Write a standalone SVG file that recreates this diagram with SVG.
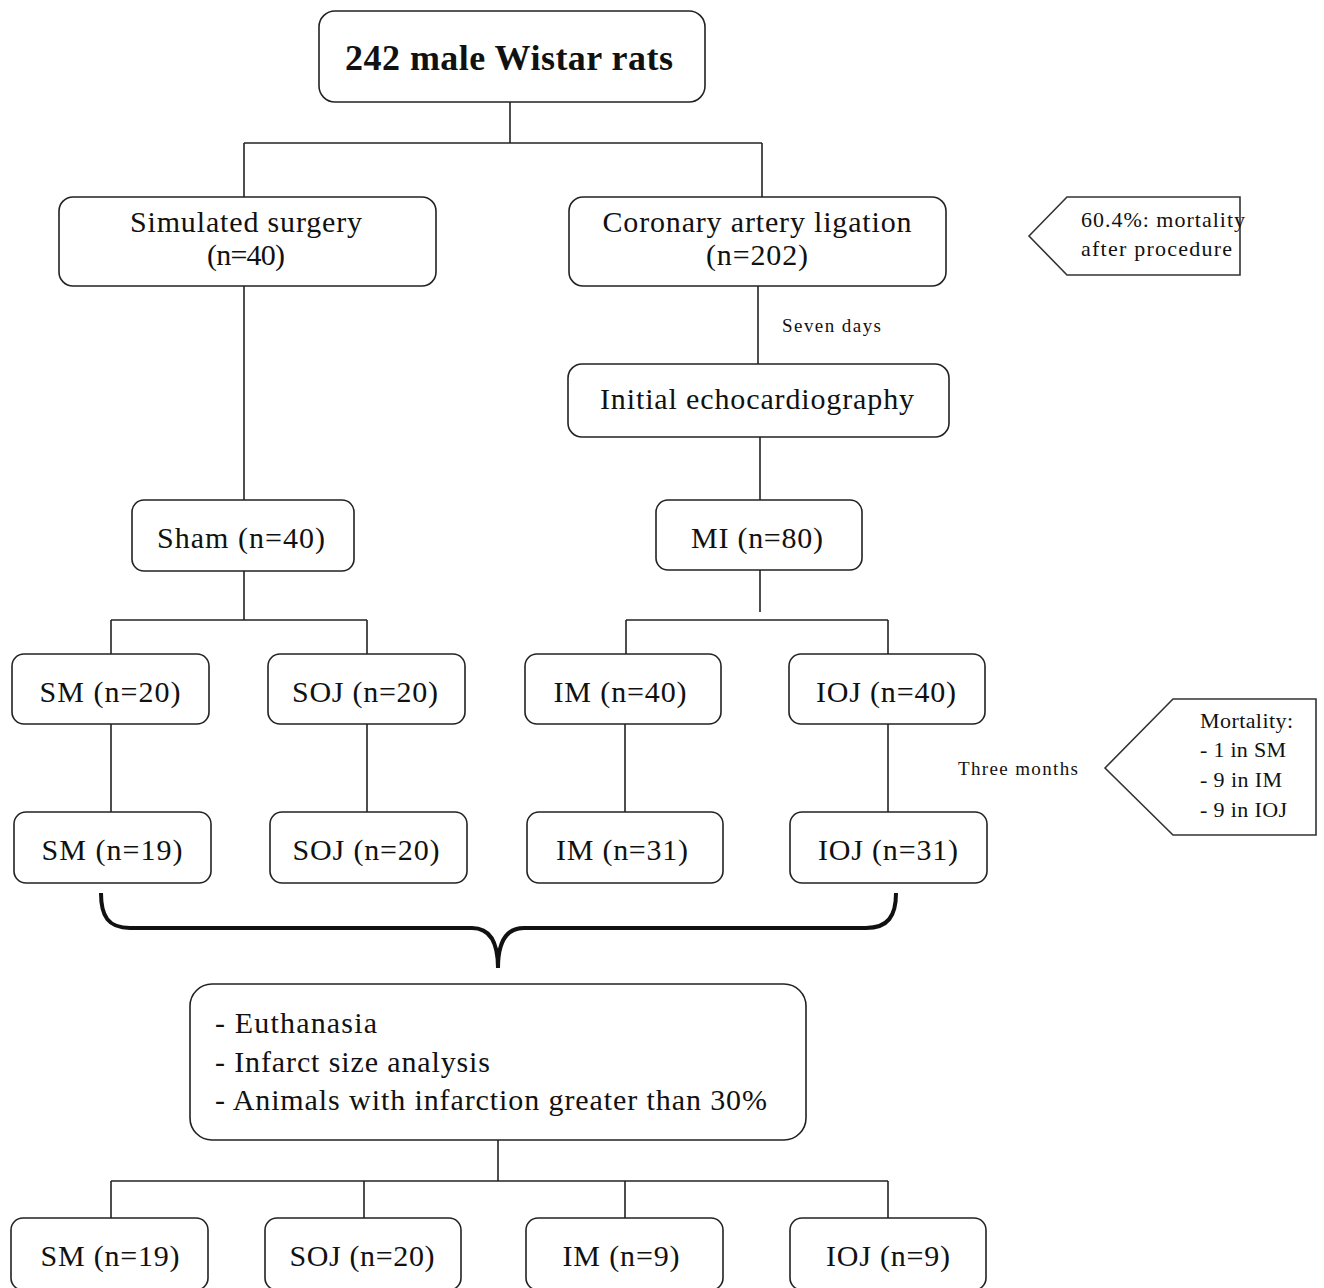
<svg xmlns="http://www.w3.org/2000/svg" width="1324" height="1288" viewBox="0 0 1324 1288">
<style>
.box{fill:#fff;stroke:#222;stroke-width:1.6}
.call{fill:#fff;stroke:#333;stroke-width:1.6}
.t{font-family:"Liberation Serif","Times New Roman",serif;font-size:30px;fill:#111}
.title{font-size:36px;font-weight:bold}
.tc{text-anchor:middle}
.s{font-family:"Liberation Serif","Times New Roman",serif;font-size:22px;fill:#111}
.xs{font-family:"Liberation Serif","Times New Roman",serif;font-size:19px;fill:#111}
.c line{stroke:#222;stroke-width:1.6}
</style>
<rect width="1324" height="1288" fill="#fff"/>
<g class="c" id="connectors">
<line x1="510" y1="102" x2="510" y2="143"/>
<line x1="244" y1="143" x2="762" y2="143"/>
<line x1="244" y1="143" x2="244" y2="197"/>
<line x1="762" y1="143" x2="762" y2="197"/>
<line x1="244" y1="286" x2="244" y2="500"/>
<line x1="758" y1="286" x2="758" y2="364"/>
<line x1="760" y1="437" x2="760" y2="500"/>
<line x1="244" y1="571" x2="244" y2="620"/>
<line x1="111" y1="620" x2="367" y2="620"/>
<line x1="111" y1="620" x2="111" y2="654"/>
<line x1="367" y1="620" x2="367" y2="654"/>
<line x1="760" y1="570" x2="760" y2="612"/>
<line x1="626" y1="620" x2="888" y2="620"/>
<line x1="626" y1="620" x2="626" y2="654"/>
<line x1="888" y1="620" x2="888" y2="654"/>
<line x1="111" y1="724" x2="111" y2="812"/>
<line x1="367" y1="724" x2="367" y2="812"/>
<line x1="625" y1="724" x2="625" y2="812"/>
<line x1="888" y1="724" x2="888" y2="812"/>
<line x1="498" y1="1140" x2="498" y2="1181"/>
<line x1="111" y1="1181" x2="888" y2="1181"/>
<line x1="111" y1="1181" x2="111" y2="1218"/>
<line x1="364" y1="1181" x2="364" y2="1218"/>
<line x1="625" y1="1181" x2="625" y2="1218"/>
<line x1="888" y1="1181" x2="888" y2="1218"/>
<path d="M101,893 C101,916 108,928 130,928 L472,928 C490,928 498,942 498,968 C498,942 506,928 524,928 L866,928 C888,928 896,916 896,893" fill="none" stroke="#111" stroke-width="4"/>
<text class="xs" x="782" y="332" textLength="99" lengthAdjust="spacing">Seven days</text>
<text class="xs" x="958" y="775" textLength="120" lengthAdjust="spacing">Three months</text>
</g>
<g id="n-root">
<rect class="box" x="319" y="11" width="386" height="91" rx="16"/>
<text class="t title tc" x="509" y="70" textLength="328" lengthAdjust="spacing">242 male Wistar rats</text>
</g>
<g id="n-sim">
<rect class="box" x="59" y="197" width="377" height="89" rx="14"/>
<text class="t tc" x="246" y="232" textLength="232" lengthAdjust="spacing">Simulated surgery</text>
<text class="t tc" x="246" y="265" textLength="78" lengthAdjust="spacing">(n=40)</text>
</g>
<g id="n-cal">
<rect class="box" x="569" y="197" width="377" height="89" rx="14"/>
<text class="t tc" x="757" y="232" textLength="309" lengthAdjust="spacing">Coronary artery ligation</text>
<text class="t tc" x="757" y="265" textLength="102" lengthAdjust="spacing">(n=202)</text>
</g>
<g id="n-mort1">
<polygon class="call" points="1029,236 1067,197 1240,197 1240,275 1067,275"/>
<text class="s" x="1081" y="227" textLength="164" lengthAdjust="spacing">60.4%: mortality</text>
<text class="s" x="1081" y="256" textLength="151" lengthAdjust="spacing">after procedure</text>
</g>
<g id="n-echo">
<rect class="box" x="568" y="364" width="381" height="73" rx="14"/>
<text class="t tc" x="757" y="409" textLength="314" lengthAdjust="spacing">Initial echocardiography</text>
</g>
<g id="n-sham">
<rect class="box" x="132" y="500" width="222" height="71" rx="12"/>
<text class="t tc" x="241" y="548" textLength="168" lengthAdjust="spacing">Sham (n=40)</text>
</g>
<g id="n-mi">
<rect class="box" x="656" y="500" width="206" height="70" rx="12"/>
<text class="t tc" x="757" y="548" textLength="132" lengthAdjust="spacing">MI (n=80)</text>
</g>
<g id="n-sm1">
<rect class="box" x="12" y="654" width="197" height="70" rx="12"/>
<text class="t tc" x="110" y="702" textLength="141" lengthAdjust="spacing">SM (n=20)</text>
</g>
<g id="n-soj1">
<rect class="box" x="268" y="654" width="197" height="70" rx="12"/>
<text class="t tc" x="365" y="702" textLength="146" lengthAdjust="spacing">SOJ (n=20)</text>
</g>
<g id="n-im1">
<rect class="box" x="525" y="654" width="196" height="70" rx="12"/>
<text class="t tc" x="620" y="702" textLength="133" lengthAdjust="spacing">IM (n=40)</text>
</g>
<g id="n-ioj1">
<rect class="box" x="789" y="654" width="196" height="70" rx="12"/>
<text class="t tc" x="886" y="702" textLength="140" lengthAdjust="spacing">IOJ (n=40)</text>
</g>
<g id="n-mort2">
<polygon class="call" points="1105,768 1173,699 1316,699 1316,835 1173,835"/>
<text class="s" x="1200" y="728" textLength="93" lengthAdjust="spacing">Mortality:</text>
<text class="s" x="1200" y="757" textLength="86" lengthAdjust="spacing">- 1 in SM</text>
<text class="s" x="1200" y="787" textLength="82" lengthAdjust="spacing">- 9 in IM</text>
<text class="s" x="1200" y="817" textLength="87" lengthAdjust="spacing">- 9 in IOJ</text>
</g>
<g id="n-sm2">
<rect class="box" x="14" y="812" width="197" height="71" rx="12"/>
<text class="t tc" x="112" y="860" textLength="141" lengthAdjust="spacing">SM (n=19)</text>
</g>
<g id="n-soj2">
<rect class="box" x="270" y="812" width="197" height="71" rx="12"/>
<text class="t tc" x="366" y="860" textLength="147" lengthAdjust="spacing">SOJ (n=20)</text>
</g>
<g id="n-im2">
<rect class="box" x="527" y="812" width="196" height="71" rx="12"/>
<text class="t tc" x="622" y="860" textLength="132" lengthAdjust="spacing">IM (n=31)</text>
</g>
<g id="n-ioj2">
<rect class="box" x="790" y="812" width="197" height="71" rx="12"/>
<text class="t tc" x="888" y="860" textLength="140" lengthAdjust="spacing">IOJ (n=31)</text>
</g>
<g id="n-euth">
<rect class="box" x="190" y="984" width="616" height="156" rx="22"/>
<text class="t" x="215" y="1033" textLength="162" lengthAdjust="spacing">- Euthanasia</text>
<text class="t" x="215" y="1072" textLength="275" lengthAdjust="spacing">- Infarct size analysis</text>
<text class="t" x="215" y="1110" textLength="552" lengthAdjust="spacing">- Animals with infarction greater than 30%</text>
</g>
<g id="n-sm3">
<rect class="box" x="11" y="1218" width="197" height="72" rx="12"/>
<text class="t tc" x="110" y="1266" textLength="139" lengthAdjust="spacing">SM (n=19)</text>
</g>
<g id="n-soj3">
<rect class="box" x="265" y="1218" width="196" height="72" rx="12"/>
<text class="t tc" x="362" y="1266" textLength="145" lengthAdjust="spacing">SOJ (n=20)</text>
</g>
<g id="n-im3">
<rect class="box" x="526" y="1218" width="197" height="72" rx="12"/>
<text class="t tc" x="621" y="1266" textLength="117" lengthAdjust="spacing">IM (n=9)</text>
</g>
<g id="n-ioj3">
<rect class="box" x="790" y="1218" width="196" height="72" rx="12"/>
<text class="t tc" x="888" y="1266" textLength="124" lengthAdjust="spacing">IOJ (n=9)</text>
</g>
</svg>
